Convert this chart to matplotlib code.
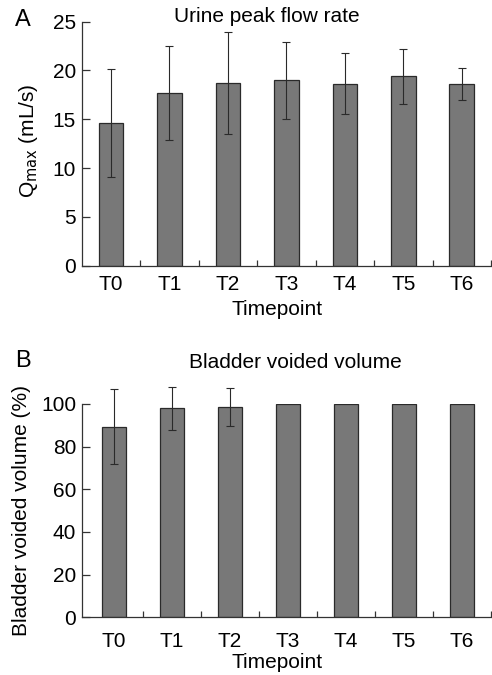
import numpy as np
import matplotlib
matplotlib.use('Agg')
import matplotlib.pyplot as plt

plt.rcParams['font.family'] = ['Liberation Sans', 'DejaVu Sans']

timepoints = ['T0', 'T1', 'T2', 'T3', 'T4', 'T5', 'T6']
qmax_mean = [14.6, 17.7, 18.7, 19.0, 18.65, 19.4, 18.6]
qmax_err = [5.5, 4.85, 5.2, 3.95, 3.15, 2.85, 1.65]
volume_mean = [89.4, 98.0, 98.6, 100, 100, 100, 100]
volume_err = [17.6, 10.0, 8.7, 0, 0, 0, 0]

bar_color = '#787878'
H = 675.0

fig = plt.figure(figsize=(4.92, 6.75), dpi=100)
axA = fig.add_axes([0.166, 0.6064, 0.832, 0.3615])
axB = fig.add_axes([0.166, 0.0855, 0.832, 0.316])


def draw(ax, means, errs, ymax, yticks, xlim, xpad, xlabel_y):
    x = np.arange(len(timepoints))
    ax.bar(x, means, width=0.42, color=bar_color, edgecolor='#2a2a2a', linewidth=0.9, zorder=2)
    e = np.array(errs)
    mask = e > 0
    ax.errorbar(x[mask], np.array(means)[mask], yerr=e[mask], fmt='none', ecolor='#2a2a2a',
                elinewidth=0.8, capsize=3, capthick=0.8, clip_on=False, zorder=3)
    ax.set_xlim(*xlim)
    ax.set_ylim(0, ymax)
    ax.set_yticks(yticks)
    ax.set_xticks(x)
    ax.set_xticklabels(timepoints, fontsize=15)
    ax.set_xticks(np.arange(0.5, 6.6, 1), minor=True)
    ax.tick_params(axis='x', which='major', length=0, pad=xpad)
    ax.tick_params(axis='x', which='minor', direction='in', length=4, width=0.9, color='#333333')
    ax.tick_params(axis='y', direction='in', length=6, width=0.9, labelsize=15, pad=4,
                   color='#333333')
    for s in ['top', 'right']:
        ax.spines[s].set_visible(False)
    for s in ['left', 'bottom']:
        ax.spines[s].set_linewidth(0.9)
        ax.spines[s].set_color('#333333')
    ax.set_xlabel('Timepoint', fontsize=15)
    ax.xaxis.set_label_coords(0.478, xlabel_y)


draw(axA, qmax_mean, qmax_err, 25, [0, 5, 10, 15, 20, 25], (-0.5, 6.5), 6.5, -0.141)
draw(axB, volume_mean, volume_err, 100, [0, 20, 40, 60, 80, 100], (-0.56, 6.5), 10.5, -0.167)

fig.text(28 / 492, 1 - 141 / H, r'Q$_{\rm max}$ (mL/s)', rotation=90, ha='center', va='center', fontsize=15)
fig.text(22 / 492, 1 - 510 / H, 'Bladder voided volume (%)', rotation=90, ha='center', va='center', fontsize=15)

fig.text(266.7 / 492, 1 - 21.7 / H, 'Urine peak flow rate', ha='center', va='baseline', fontsize=15)
fig.text(295 / 492, 1 - 368 / H, 'Bladder voided volume', ha='center', va='baseline', fontsize=15)
fig.text(23 / 492, 1 - 26 / H, 'A', ha='center', va='baseline', fontsize=17)
fig.text(23 / 492, 1 - 367 / H, 'B', ha='center', va='baseline', fontsize=17)

plt.savefig('out.png', dpi=100)
